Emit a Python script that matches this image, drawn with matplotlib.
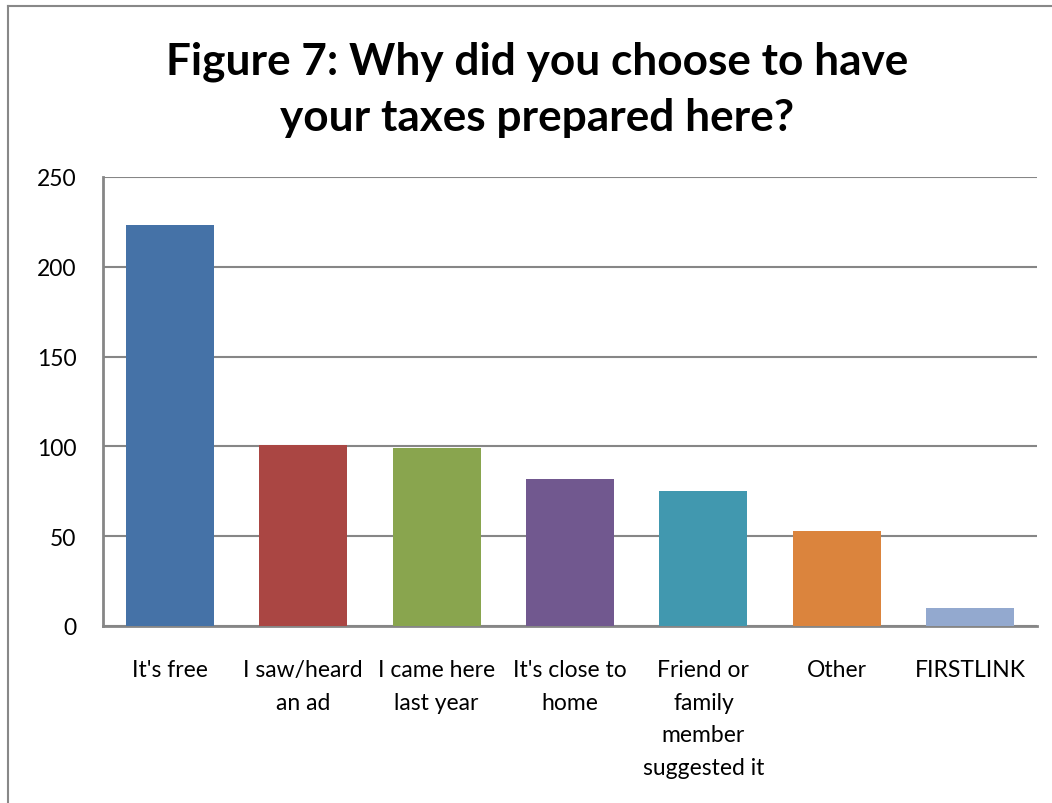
import matplotlib.pyplot as plt
from matplotlib.lines import Line2D

# Survey answers and counts
categories = ["It's free", "I saw/heard\nan ad", "I came here\nlast year", "It's close to\nhome",
              "Friend or\nfamily\nmember\nsuggested it", "Other", "FIRSTLINK"]
counts = [223, 101, 99, 82, 75, 53, 10]
bar_colors = ['#4572A7', '#AA4643', '#89A54E', '#71588F', '#4198AF', '#DB843D', '#93A9CF']
yticks = [0, 50, 100, 150, 200, 250]

plt.rcParams['font.family'] = ['Lato', 'DejaVu Sans']

fig = plt.figure(figsize=(10.52, 8.04), dpi=100)
ax = fig.add_axes([103 / 1052, 1 - 627 / 804, (1037 - 103) / 1052, (627 - 178) / 804])

x = range(len(categories))
ax.bar(x, counts, width=0.66, color=bar_colors, zorder=3)

ax.set_xlim(-0.5, len(categories) - 0.5)
ax.set_ylim(0, 250)
ax.set_yticks(yticks)
ax.set_xticks(list(x))
ax.set_xticklabels(categories, fontsize=16.5, linespacing=1.68, va='top')
ax.tick_params(axis='y', labelsize=16.5, length=0, pad=19)
ax.tick_params(axis='x', length=0, pad=24)

ax.grid(axis='y', color='#868686', linewidth=1.5, zorder=0)
for side in ['top', 'right']:
    ax.spines[side].set_visible(False)
for side in ['left', 'bottom']:
    ax.spines[side].set_color('#868686')
    ax.spines[side].set_linewidth(2)

fig.text(537 / 1052, 1 - 90 / 804, "Figure 7: Why did you choose to have\nyour taxes prepared here?",
         ha='center', va='center', fontsize=31.8, fontweight='bold', linespacing=1.5)

# Outer chart border (top and left edges)
fig.add_artist(Line2D([8 / 1052, 1], [1 - 7 / 804, 1 - 7 / 804], color='#888888', linewidth=1.5))
fig.add_artist(Line2D([8 / 1052, 8 / 1052], [0, 1 - 7 / 804], color='#888888', linewidth=1.5))

plt.savefig('out.png', dpi=100)
